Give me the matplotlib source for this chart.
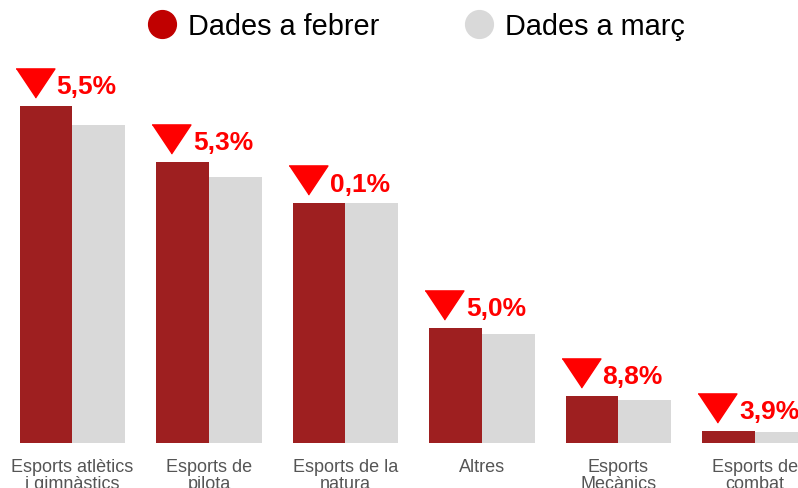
import numpy as np
import matplotlib.pyplot as plt
from matplotlib.lines import Line2D
from matplotlib.transforms import offset_copy

plt.rcParams['font.family'] = ['Liberation Sans', 'DejaVu Sans']

# Data (bar heights, arbitrary units)
categories = ["Esports atlètics\ni gimnàstics", "Esports de\npilota", "Esports de la\nnatura",
              "Altres", "Esports\nMecànics", "Esports de\ncombat"]
febrer = [337, 281, 240, 115, 47, 12]
marc = [318.5, 266, 239.8, 109, 43, 11.5]
drops = [5.5, 5.3, 0.1, 5.0, 8.8, 3.9]

red_bar = '#9e1f20'
grey_bar = '#d9d9d9'
red_mark = '#ff0000'

fig = plt.figure(figsize=(7.98, 4.89), dpi=100, facecolor='white')
ax = fig.add_axes([0, 45 / 489, 1, 384 / 489])
ax.set_xlim(-0.531, 5.315)
ax.set_ylim(0, 384)

x = np.arange(len(categories))
w = 0.388
ax.bar(x - w / 2, febrer, width=w, color=red_bar, zorder=2)
ax.bar(x + w / 2, marc, width=w, color=grey_bar, zorder=2)

# downward triangles + percentages
tri = [(-1, 0.75), (1, 0.75), (0, -0.75)]
tri_tr = offset_copy(ax.transData, fig=fig, x=15, y=23, units='dots')
txt_tr = offset_copy(ax.transData, fig=fig, x=37, y=12.5, units='dots')
for xi, v, d in zip(x, febrer, drops):
    left = xi - w
    ax.plot([left], [v], marker=tri, ms=28, color=red_mark, ls='none',
            transform=tri_tr, clip_on=False, zorder=3)
    ax.text(left, v, f"{d:.1f}%".replace('.', ','), transform=txt_tr,
            ha='left', va='baseline', fontsize=19, fontweight='bold',
            color=red_mark, clip_on=False)

ax.set_xticks(x)
ax.set_xticklabels(categories, fontsize=13, color='#555555', linespacing=1.0)
ax.tick_params(axis='x', length=0, pad=11)
ax.set_yticks([])
for s in ax.spines.values():
    s.set_visible(False)

handles = [Line2D([], [], marker='o', ls='none', ms=20, color='#c00000'),
           Line2D([], [], marker='o', ls='none', ms=20, color='#d9d9d9')]
fig.legend(handles, ['Dades a febrer', 'Dades a març'], loc='center',
           bbox_to_anchor=(0.522, 0.945), ncol=2, frameon=False,
           fontsize=20.8, handlelength=1.0, handletextpad=0.4,
           columnspacing=2.95, borderpad=0)

fig.savefig('out.png', dpi=100)
